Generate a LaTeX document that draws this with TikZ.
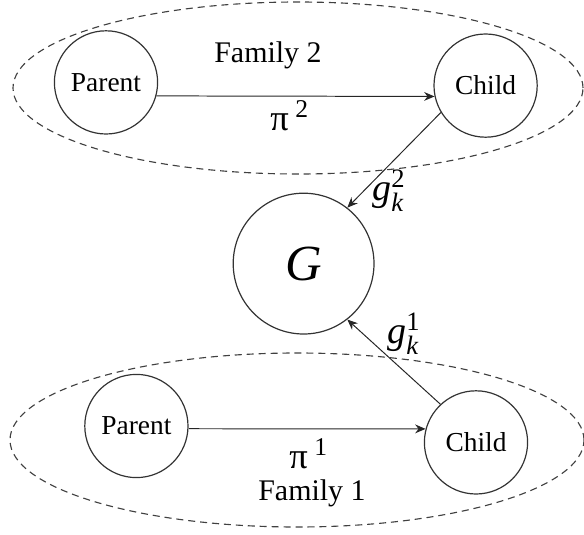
\documentclass[tikz,border=0pt]{standalone}
\usepackage{amsmath}
\usepackage{fontspec}
\setmainfont{Liberation Serif}
\usepackage{tikz}
\usetikzlibrary{arrows.meta,shapes.geometric}

\begin{document}
\begin{tikzpicture}[
  person/.style={circle, draw=black!80, line width=0.85pt, minimum size=2.58cm, inner sep=0pt, font=\fontsize{19.5}{22}\selectfont},
  gnode/.style={circle, draw=black!80, line width=0.85pt, minimum size=3.52cm, inner sep=0pt, font=\fontsize{36}{40}\selectfont\itshape},
  family/.style={ellipse, draw=black!75, line width=0.8pt, dash pattern=on 5pt off 3.5pt, inner sep=0pt},
  famtext/.style={font=\fontsize{21.3}{24}\selectfont, inner sep=0pt, anchor=base},
  pilabel/.style={font=\fontsize{26}{28}\selectfont, inner sep=0pt, anchor=base west},
  glabel/.style={font=\fontsize{27}{30}\selectfont, inner sep=0pt, anchor=base west},
  >={Stealth[length=2.6mm, width=2.2mm]}]

  \useasboundingbox (0,0) rectangle (14.6,13.35);

  % the two families
  \node[family, minimum width=14.25cm, minimum height=4.3cm] (fam2) at (7.45,11.15) {};
  \node[family, minimum width=14.35cm, minimum height=4.35cm] (fam1) at (7.425,2.35) {};

  % family 2
  \node[person] (p2) at (2.65,11.29) {Parent};
  \node[person] (c2) at (12.14,11.21) {Child};
  \node[famtext] (f2) at (6.7,11.8) {Family 2};
  \draw[->, line width=0.7pt, black!85] (p2.-15) -- (c2.192);
  \node[pilabel] (pi2) at (6.75,10.1) {$\text{π}^{\;\text{2}}$};

  % the shared G
  \node[gnode] (G) at (7.59,6.76) {G};

  % family 1
  \node[person] (p1) at (3.41,2.7) {Parent};
  \node[person] (c1) at (11.9,2.29) {Child};
  \node[famtext] (f1) at (7.8,0.85) {Family 1};
  \draw[->, line width=0.7pt, black!85] (p1.-3) -- (c1.165);
  \node[pilabel] (pi1) at (7.225,1.65) {$\text{π}^{\;\text{1}}$};

  % children feed G
  \draw[->, line width=0.7pt, black!85] (c2.211) -- (G.52);
  \draw[->, line width=0.7pt, black!85] (c1.133) -- (G.-52);
  \node[glabel] (g2) at (9.3,8.35) {$\textit{g}^{\text{2}}_{\textit{k}}$};
  \node[glabel] (g1) at (9.675,4.775) {$\textit{g}^{\text{1}}_{\textit{k}}$};
\end{tikzpicture}
\end{document}
